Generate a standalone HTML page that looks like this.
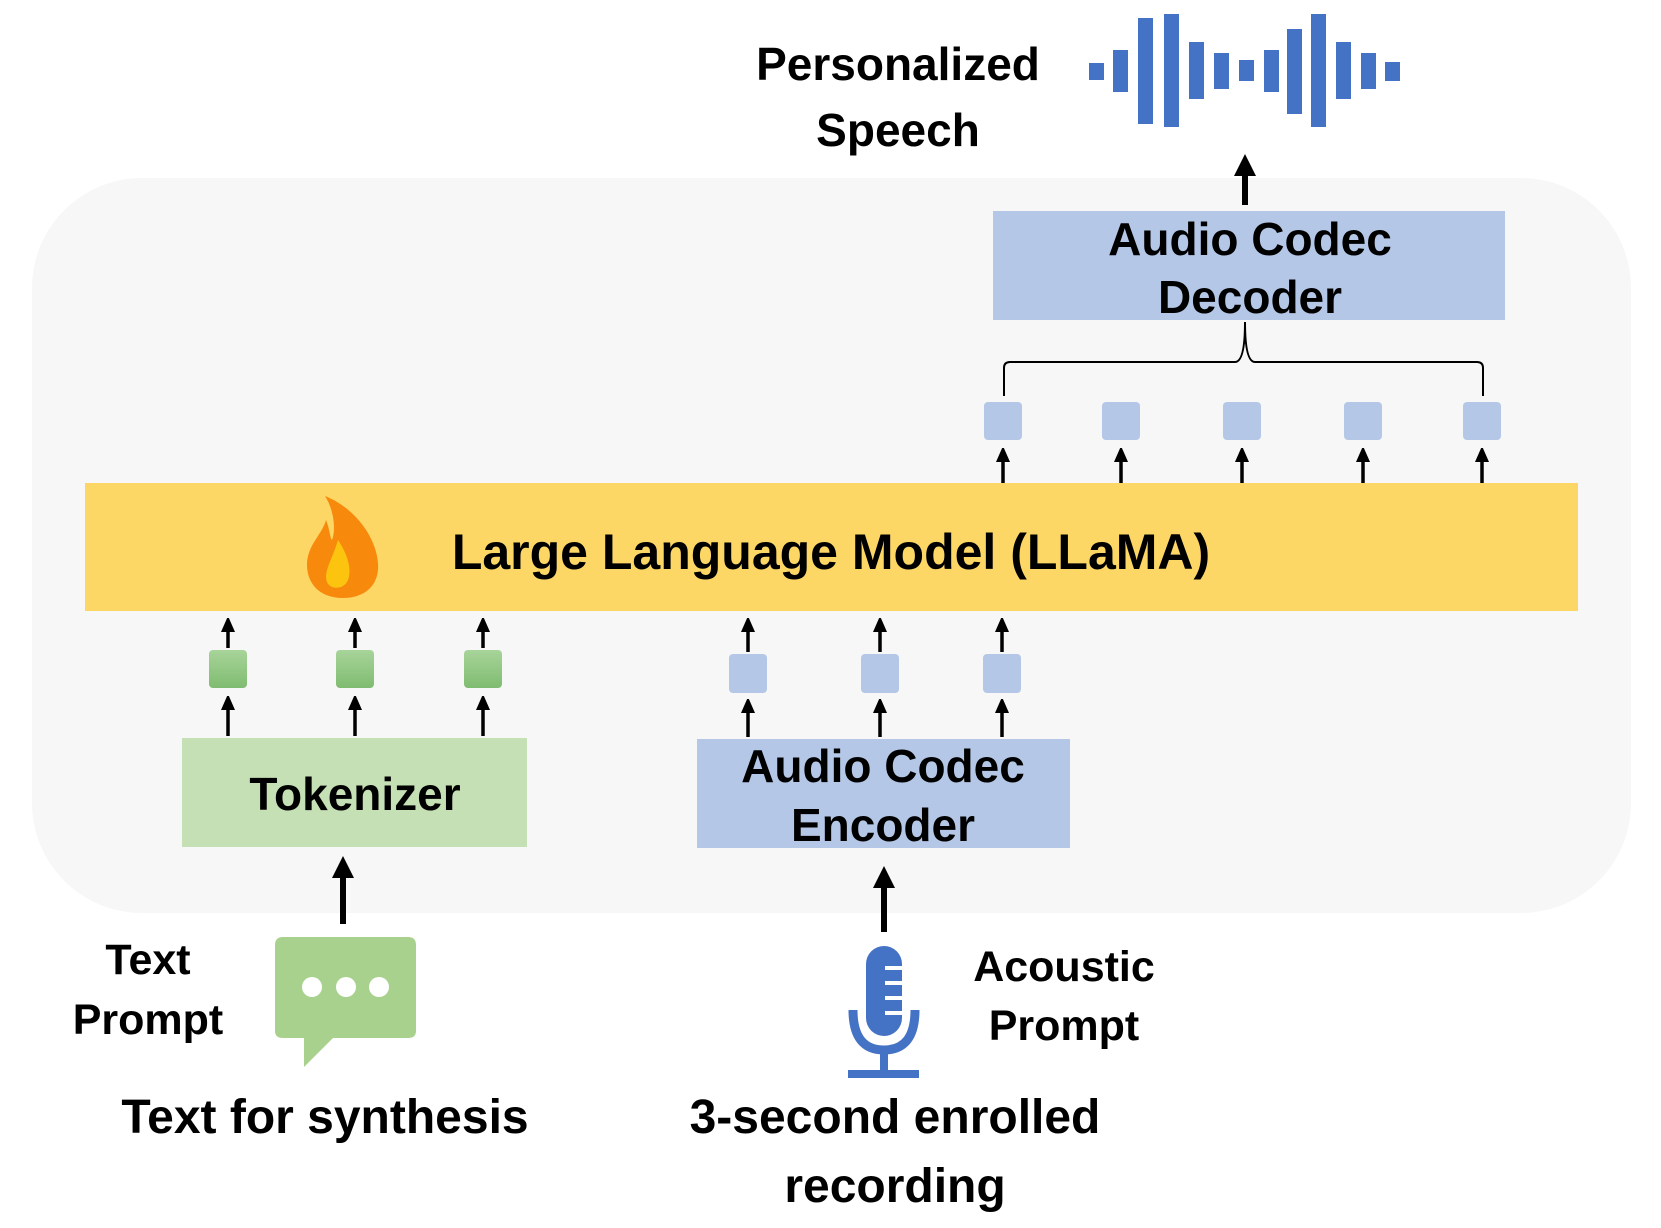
<!DOCTYPE html>
<html><head><meta charset="utf-8"><style>html,body{margin:0;padding:0;background:#fff}svg{display:block}text{font-family:"Liberation Sans",sans-serif;fill:#000;font-weight:bold}</style></head>
<body>
<svg width="1661" height="1228" viewBox="0 0 1661 1228" xmlns="http://www.w3.org/2000/svg">
<defs>
<marker id="ah" markerWidth="14" markerHeight="16" refX="4" refY="7" orient="auto" markerUnits="userSpaceOnUse"><path d="M0,0 L16,7 L0,14 z" fill="#000"/></marker>
<marker id="ah2" markerWidth="22" markerHeight="24" refX="4" refY="11" orient="auto" markerUnits="userSpaceOnUse"><path d="M0,0 L22,11 L0,22 z" fill="#000"/></marker>
<linearGradient id="gg" x1="0" y1="0" x2="0" y2="1"><stop offset="0" stop-color="#a8d49a"/><stop offset="1" stop-color="#7fbc70"/></linearGradient>
</defs>
<rect x="32" y="178" width="1599" height="735" rx="110" fill="#f7f7f7"/>
<rect x="85" y="483" width="1493" height="128" fill="#fdd766"/>
<rect x="993" y="211" width="512" height="109" fill="#b4c7e7"/>
<rect x="182" y="738" width="345" height="109" fill="#c5e0b4"/>
<rect x="697" y="739" width="373" height="109" fill="#b4c7e7"/>
<g font-size="46" text-anchor="middle">
<text x="898" y="80">Personalized</text>
<text x="898" y="146">Speech</text>
<text x="1250" y="255">Audio Codec</text>
<text x="1250" y="313">Decoder</text>
<text x="355" y="810">Tokenizer</text>
<text x="883" y="782">Audio Codec</text>
<text x="883" y="841">Encoder</text>
<text x="148" y="974" font-size="43">Text</text>
<text x="148" y="1034" font-size="43">Prompt</text>
<text x="1064" y="981" font-size="43">Acoustic</text>
<text x="1064" y="1040" font-size="43">Prompt</text>
<text x="325" y="1133" font-size="48">Text for synthesis</text>
<text x="895" y="1133" font-size="48">3-second enrolled</text>
<text x="895" y="1202" font-size="48">recording</text>
<text x="831" y="569" font-size="50">Large Language Model (LLaMA)</text>
</g>
<g fill="#4472c4">
<rect x="1089" y="63" width="15" height="17"/><rect x="1113" y="50" width="15" height="42"/><rect x="1138" y="18" width="15" height="106"/><rect x="1164" y="14" width="15" height="113"/><rect x="1189" y="42" width="15" height="57"/><rect x="1214" y="53" width="15" height="36"/><rect x="1239" y="60" width="15" height="21"/><rect x="1264" y="50" width="15" height="42"/><rect x="1287" y="29" width="15" height="85"/><rect x="1311" y="14" width="15" height="113"/><rect x="1336" y="42" width="15" height="57"/><rect x="1361" y="53" width="15" height="36"/><rect x="1385" y="62" width="15" height="19"/>
</g>
<g stroke="#000" stroke-width="6"><line x1="1245" y1="205" x2="1245" y2="172" marker-end="url(#ah2)"/>
<line x1="343" y1="924" x2="343" y2="874" marker-end="url(#ah2)"/>
<line x1="884" y1="932" x2="884" y2="884" marker-end="url(#ah2)"/></g>
<path d="M1245,322 Q1245,362 1235,362 L1010,362 Q1004,362 1004,368 L1004,396 M1245,322 Q1245,362 1255,362 L1477,362 Q1483,362 1483,368 L1483,396" fill="none" stroke="#000" stroke-width="2"/>
<g fill="#b4c7e7">
<rect x="984" y="402" width="38" height="38" rx="4"/><rect x="1102" y="402" width="38" height="38" rx="4"/><rect x="1223" y="402" width="38" height="38" rx="4"/><rect x="1344" y="402" width="38" height="38" rx="4"/><rect x="1463" y="402" width="38" height="38" rx="4"/>
<rect x="729" y="654" width="38" height="39" rx="4"/><rect x="861" y="654" width="38" height="39" rx="4"/><rect x="983" y="654" width="38" height="39" rx="4"/>
</g>
<g fill="url(#gg)"><rect x="209" y="650" width="38" height="38" rx="4"/><rect x="336" y="650" width="38" height="38" rx="4"/><rect x="464" y="650" width="38" height="38" rx="4"/></g>
<g stroke="#000" stroke-width="3.5">
<line x1="1003" y1="483" x2="1003" y2="458" marker-end="url(#ah)"/><line x1="1121" y1="483" x2="1121" y2="458" marker-end="url(#ah)"/><line x1="1242" y1="483" x2="1242" y2="458" marker-end="url(#ah)"/><line x1="1363" y1="483" x2="1363" y2="458" marker-end="url(#ah)"/><line x1="1482" y1="483" x2="1482" y2="458" marker-end="url(#ah)"/>
<line x1="228" y1="648" x2="228" y2="628" marker-end="url(#ah)"/><line x1="355" y1="648" x2="355" y2="628" marker-end="url(#ah)"/><line x1="483" y1="648" x2="483" y2="628" marker-end="url(#ah)"/>
<line x1="228" y1="736" x2="228" y2="706" marker-end="url(#ah)"/><line x1="355" y1="736" x2="355" y2="706" marker-end="url(#ah)"/><line x1="483" y1="736" x2="483" y2="706" marker-end="url(#ah)"/>
<line x1="748" y1="652" x2="748" y2="628" marker-end="url(#ah)"/><line x1="880" y1="652" x2="880" y2="628" marker-end="url(#ah)"/><line x1="1002" y1="652" x2="1002" y2="628" marker-end="url(#ah)"/>
<line x1="748" y1="737" x2="748" y2="709" marker-end="url(#ah)"/><line x1="880" y1="737" x2="880" y2="709" marker-end="url(#ah)"/><line x1="1002" y1="737" x2="1002" y2="709" marker-end="url(#ah)"/>
</g>
<path d="M325,496 C360,510 380,545 378,570 C376,590 360,598 343,598 C318,598 307,582 307,565 C307,545 322,535 326,520 C330,530 330,538 332,540 C336,530 334,510 325,496 Z" fill="#f7890c"/>
<path d="M338,540 C348,555 352,570 348,580 C344,590 330,590 327,582 C323,572 332,560 338,540 Z" fill="#fcc40f"/>
<path d="M275,945 Q275,937 283,937 L408,937 Q416,937 416,945 L416,1031 Q416,1038 408,1038 L333,1038 L304,1067 L304,1038 L283,1038 Q275,1038 275,1031 Z" fill="#a9d18e"/>
<g fill="#fff"><circle cx="312" cy="987" r="10"/><circle cx="346" cy="987" r="10"/><circle cx="379" cy="987" r="10"/></g>
<rect x="866" y="946" width="36" height="90" rx="18" fill="#4472c4"/>
<g stroke="#fff" stroke-width="4"><line x1="885" y1="968" x2="902" y2="968"/><line x1="885" y1="983" x2="902" y2="983"/><line x1="885" y1="998" x2="902" y2="998"/><line x1="885" y1="1013" x2="902" y2="1013"/></g>
<path d="M853,1010 Q853,1050 884,1050 Q915,1050 915,1010" fill="none" stroke="#4472c4" stroke-width="9"/>
<rect x="880" y="1050" width="8" height="24" fill="#4472c4"/>
<rect x="848" y="1070" width="71" height="8" fill="#4472c4"/>
</svg>
</body></html>
